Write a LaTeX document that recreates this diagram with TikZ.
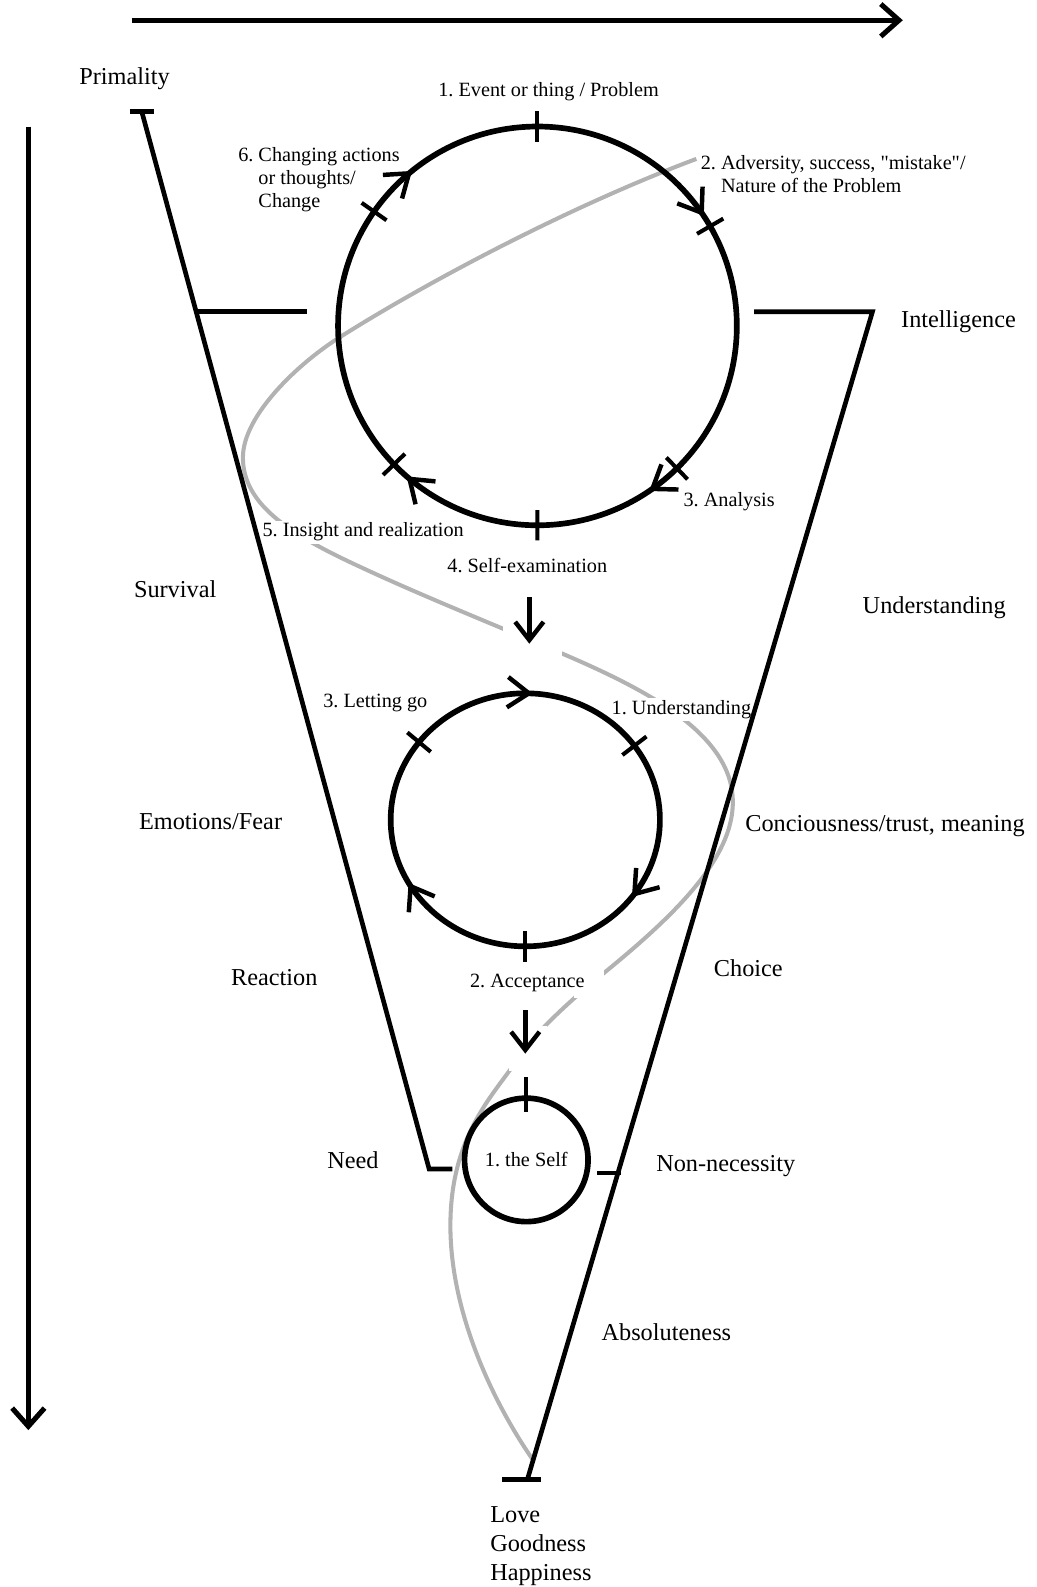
\documentclass[tikz,border=0pt]{standalone}
\usepackage{fontspec}
\setmainfont{Liberation Serif}
\usetikzlibrary{arrows.meta, decorations.markings, positioning}

\begin{document}
\frenchspacing
\begin{tikzpicture}[
    x=0.5pt, y=0.5pt,
    every node/.style={font=\fontsize{12}{14}\selectfont, inner sep=1pt},
    biglbl/.style={anchor=west, text height=0.7em, text depth=0.25em},
    smalllbl/.style={anchor=west, font=\fontsize{10}{11.5}\selectfont, fill=white,
        text height=0.7em, text depth=0.25em},
    multilbl/.style={anchor=north west, align=left, font=\fontsize{10}{11.5}\selectfont, fill=white},
    blackline/.style={line width=2.3pt},
    cycleline/.style={line width=2.8pt},
    tickline/.style={line width=2pt},
    greypath/.style={draw=black!30, line width=2pt},
    axisarr/.style={line width=2.5pt, -{Straight Barb[length=9pt, width=16pt]}},
    downarr/.style={line width=2.2pt, -{Straight Barb[length=9pt, width=14pt]}},
    cyctick/.style={postaction={decorate, decoration={markings,
        mark=at position #1 with {\draw[tickline] (0,-15) -- (0,15);}}}},
    cycarr/.style={postaction={decorate, decoration={markings,
        mark=at position #1 with {\arrow{Straight Barb[length=10.5pt, width=15pt, line width=2.2pt]}}}}}
]
\useasboundingbox (0,0) rectangle (1024,-1568);

% Centres of the cycles
\coordinate (stage1) at (531,-322);
\coordinate (stage2) at (519,-810);

% Grey path through the funnel
\draw[greypath] (688,-157) .. controls (560,-205) and (420,-280) .. (336,-333)
    .. controls (296,-358) and (240,-410) .. (240,-452)
    .. controls (240,-500) and (290,-530) .. (360,-562)
    .. controls (420,-590) and (500,-622) .. (556,-646)
    .. controls (640,-682) and (722,-725) .. (724,-790)
    .. controls (726,-850) and (660,-910) .. (591,-966)
    .. controls (550,-1000) and (520,-1030) .. (504,-1057)
    .. controls (480,-1090) and (445,-1130) .. (445,-1211)
    .. controls (445,-1300) and (490,-1390) .. (527,-1443);

% Gaps in the grey path
\fill[white] (497,-583) rectangle (555,-648);
\fill[white] (567,-958) rectangle (597,-986);
\fill[white] (503,-1014) rectangle (540,-1058);

% Labels of the first cycle
\node[smalllbl, anchor=center] (ev) at (542,-91) {1. Event or thing / Problem};
\node[multilbl] (chg) at (233,-143)
    {6. Changing actions\\\hphantom{6. }or thoughts/\\\hphantom{6. }Change};
\node[multilbl] (adv) at (690,-151)
    {2. Adversity, success, \textquotedbl mistake\textquotedbl/\\\hphantom{2. }Nature of the Problem};
\node[smalllbl] (ana) at (673,-496) {3. Analysis};
\node[smalllbl, anchor=center] (selfex) at (521,-561) {4. Self-examination};
\node[smalllbl] (ins) at (257,-526) {5. Insight and realization};

% Labels of the second cycle
\node[smalllbl] (und) at (602,-701) {1. Understanding};
\node[smalllbl] (acc) at (462,-971) {2. Acceptance};
\node[smalllbl] (let) at (317,-695) {3. Letting go};

% Side labels
\node[biglbl, anchor=center] (prim) at (123,-79) {Primality};
\node[biglbl] (intel) at (888,-319) {Intelligence};
\node[biglbl] (surv) at (130,-586) {Survival};
\node[biglbl] (under) at (850,-602) {Understanding};
\node[biglbl] (emo) at (135,-815) {Emotions/Fear};
\node[biglbl] (consc) at (734,-817) {Conciousness/trust, meaning};
\node[biglbl] (react) at (226,-969) {Reaction};
\node[biglbl] (choice) at (703,-960) {Choice};
\node[biglbl] (need) at (321,-1150) {Need};
\node[biglbl] (nonnec) at (646,-1153) {Non-necessity};
\node[biglbl] (abs) at (592,-1320) {Absoluteness};
\node[anchor=north west, align=left, font=\fontsize{12}{14.25}\selectfont] (love) at (482,-1486)
    {Love\\Goodness\\Happiness};

% Axes
\draw[axisarr] (130,-20) -- (892,-20);
\draw[axisarr] (28,-125) -- (28,-1413);

% Funnel
\draw[blackline] (128,-110) -- (152,-110);
\draw[blackline] (140,-110) -- (424,-1155) -- (447,-1155);
\draw[blackline] (194,-308) -- (303,-308);
\draw[blackline] (745,-308) -- (862,-308) -- (521,-1462);
\draw[blackline] (496,-1462) -- (535,-1462);
\draw[blackline] (590,-1159) -- (614,-1159);

% First cycle
\draw[cycleline, cyctick=0, cyctick=0.1667, cyctick=0.3767, cyctick=0.5,
      cyctick=0.6278, cyctick=0.8472, cycarr=0.157, cycarr=0.4053,
      cycarr=0.6139, cycarr=0.8917]
    (stage1) ++(0,197) arc[start angle=90, end angle=-270, radius=197];

% Second cycle
\draw[cycleline, cyctick=0.1528, cyctick=0.5, cyctick=0.8528,
      cycarr=0.009, cycarr=0.352, cycarr=0.669]
    (stage2) ++(0,125) arc[start angle=90, end angle=-270, x radius=133, y radius=125];

% The self
\node[draw, circle, cycleline, minimum size=61pt, inner sep=0pt,
      font=\fontsize{10}{12}\selectfont] (self) at (520,-1146) {1. the Self};
\draw[tickline] ([yshift=9pt]self.north) -- ([yshift=-8pt]self.north);

% Steps down
\draw[downarr] (523,-590) -- (523,-636);
\draw[downarr] (519,-998) -- (519,-1041);
\end{tikzpicture}
\end{document}
